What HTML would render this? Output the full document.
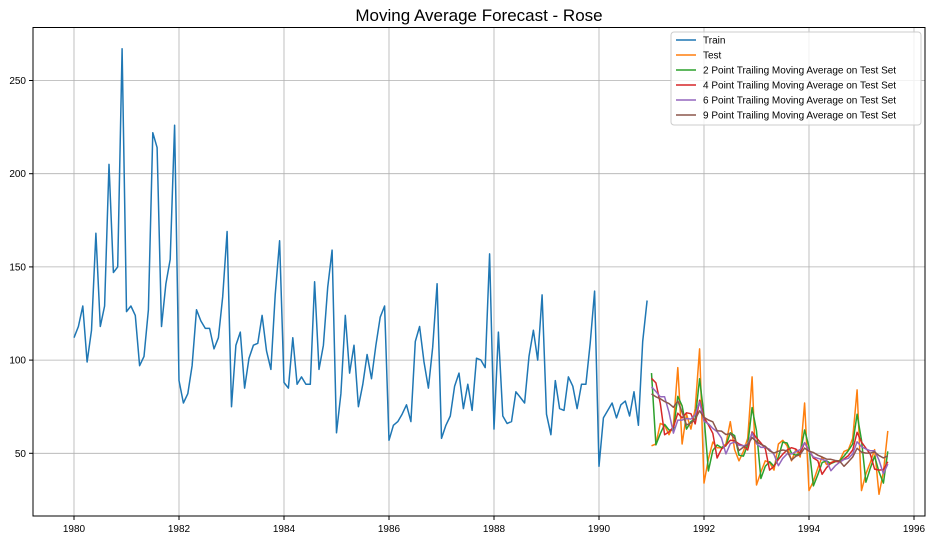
<!DOCTYPE html>
<html><head><meta charset="utf-8"><style>
body{margin:0;background:#fff;font-family:"Liberation Sans",sans-serif;}
</style></head><body>
<svg id="c" width="933" height="540" xmlns="http://www.w3.org/2000/svg" font-family="Liberation Sans, sans-serif">
<rect width="933" height="540" fill="#fff"/>
<text x="479" y="21" text-anchor="middle" font-size="17" fill="#000">Moving Average Forecast - Rose</text>
<g id="grid"></g><g id="axes"></g><g id="series"></g>
<rect x="33" y="27.5" width="892" height="488.5" fill="none" stroke="#000" stroke-width="1"/>
<g id="legend"></g>
</svg>
<script>
const trainValues=[112,118,129,99,116,168,118,129,205,147,150,267,
126,129,124,97,102,127,222,214,118,141,154,226,
89,77,82,97,127,121,117,117,106,112,134,169,
75,108,115,85,101,108,109,124,105,95,135,164,
88,85,112,87,91,87,87,142,95,108,139,159,
61,82,124,93,108,75,87,103,90,108,123,129,
57,65,67,71,76,67,110,118,99,85,107,141,
58,65,70,86,93,74,87,73,101,100,96,157,
63,115,70,66,67,83,80,77,102,116,100,135,
71,60,89,74,73,91,86,74,87,87,109,137,
43,69,73,77,69,76,78,70,83,65,110,132];
const testValues=[54,55,66,65,60,65,96,55,71,63,74,106,
34,47,56,53,53,55,67,52,46,51,58,91,
33,40,46,45,41,55,57,54,46,52,48,77,
30,35,42,48,44,45,46,46,51,52,58,84,
30,39,45,52,28,40,62];
const startYear=1980;
const windows=[2,4,6,9];
const xTicks=[1980,1982,1984,1986,1988,1990,1992,1994,1996];
const yTicks=[50,100,150,200,250];
const seriesNames=["Train","Test","2 Point Trailing Moving Average on Test Set","4 Point Trailing Moving Average on Test Set","6 Point Trailing Moving Average on Test Set","9 Point Trailing Moving Average on Test Set"];
const colors=["#1f77b4","#ff7f0e","#2ca02c","#d62728","#9467bd","#8c564b"];

const NS="http://www.w3.org/2000/svg";
const X=t=>74+(t-1980)*52.5;
const Y=v=>453.3-(v-50)*1.8640;
function mk(tag,attrs,parent){const e=document.createElementNS(NS,tag);for(const k in attrs)e.setAttribute(k,attrs[k]);parent.appendChild(e);return e;}
const grid=document.getElementById('grid'),axes=document.getElementById('axes'),ser=document.getElementById('series'),leg=document.getElementById('legend');
xTicks.forEach(t=>{
  const l=mk('line',{x1:X(t),x2:X(t),y1:27.5,y2:516,stroke:'#b0b0b0','stroke-width':0.8},grid);
  
  
  mk('line',{x1:X(t),x2:X(t),y1:516,y2:520,stroke:'#000'},axes);
  const tx=mk('text',{x:X(t),y:532,'text-anchor':'middle','font-size':10,fill:'#000'},axes);
  tx.textContent=t;
  
  
});
yTicks.forEach(v=>{
  const l=mk('line',{x1:33,x2:925,y1:Y(v),y2:Y(v),stroke:'#b0b0b0','stroke-width':0.8},grid);
  
  
  mk('line',{x1:29,x2:33,y1:Y(v),y2:Y(v),stroke:'#000'},axes);
  const tx=mk('text',{x:26,y:Y(v)+3.5,'text-anchor':'end','font-size':10,fill:'#000'},axes);
  tx.textContent=v;
  
  
});
const all=trainValues.concat(testValues);
const tOf=i=>startYear+i/12;
function line(pts,color,name){
  const p=mk('polyline',{points:pts.map(q=>X(q[0]).toFixed(1)+','+Y(q[1]).toFixed(1)).join(' '),fill:'none',stroke:color,'stroke-width':1.5,'stroke-linejoin':'round'},ser);
  
  
}
line(trainValues.map((v,i)=>[tOf(i),v]),colors[0],'train-line');
line(testValues.map((v,i)=>[tOf(i+trainValues.length),v]),colors[1],'test-line');
windows.forEach((w,k)=>{
  const pts=[];
  for(let i=trainValues.length;i<all.length;i++){
    let s=0;for(let j=i-w+1;j<=i;j++)s+=all[j];
    pts.push([tOf(i),s/w]);
  }
  line(pts,colors[k+2],'ma-'+w+'-line');
});
const lb=mk('rect',{x:671,y:32,width:250,height:93,rx:3,fill:'#fff','fill-opacity':0.8,stroke:'#ccc'},leg);


seriesNames.forEach((n,i)=>{
  const y=40+i*15;
  mk('line',{x1:676,x2:696,y1:y,y2:y,stroke:colors[i],'stroke-width':1.5},leg);
  const t=mk('text',{x:703,y:y+3.5,'font-size':10,fill:'#000'},leg);
  t.textContent=n;
  
  
});
</script>
</body></html>
